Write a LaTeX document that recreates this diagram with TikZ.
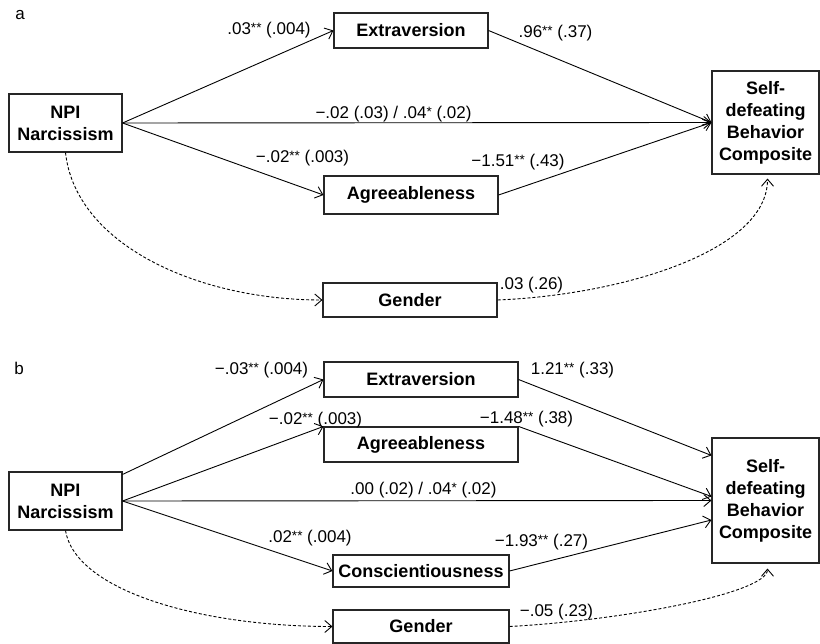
\documentclass[tikz,border=0pt]{standalone}
\usepackage{fontspec}
\setmainfont{Liberation Sans}
\usetikzlibrary{arrows.meta,calc}
\newcommand{\sig}[1]{\raisebox{0.12em}{\fontsize{13.5}{13.5}\selectfont #1}}
\begin{document}
\begin{tikzpicture}[x=1pt,y=-1pt,
  box/.style={draw=black!85, line width=1.1pt, inner sep=0pt, align=center, font=\fontsize{18}{22}\selectfont\bfseries},
  lab/.style={inner sep=0pt, font=\fontsize{17}{20}\selectfont},
  conn/.style={line width=0.9pt, -{Straight Barb[length=7pt,width=12pt]}},
  dconn/.style={conn, dash pattern=on 3pt off 2pt}]
\useasboundingbox (0,0) rectangle (820,644);

% ---------- panel a ----------
\node[lab] (pa) at (20,15) {a};
\node[box, minimum width=154, minimum height=35] (exta) at (411,30.5) {Extraversion};
\node[box, minimum width=113, minimum height=58] (npia) at (65.5,123) {NPI\\Narcissism};
\node[box, minimum width=107, minimum height=103] (sdba) at (765.5,122.5) {Self-\\defeating\\Behavior\\Composite};
\node[box, minimum width=174, minimum height=38] (agra) at (411,195) {Agreeableness};
\node[box, minimum width=174, minimum height=34] (gena) at (410,300) {Gender};

\draw[conn] (npia.east) -- (exta.west);
\draw[conn] (npia.east) -- (sdba.west);
\draw[conn] (npia.east) -- (agra.west);
\draw[conn] (exta.east) -- (sdba.west);
\draw[conn] (agra.east) -- (sdba.west);
\draw[dconn] (npia.south) .. controls +(10,92) and +(-125,0) .. (gena.west);
\draw[dconn] (gena.east) .. controls +(123,-5) and +(0,73) .. ($(sdba.south)+(2,4)$);

\node[lab] (la1) at (269,30) {.03\sig{**} (.004)};
\node[lab] (la2) at (555.5,33) {.96\sig{**} (.37)};
\node[lab] (la3) at (393.5,114) {−.02 (.03) / .04\sig{*} (.02)};
\node[lab] (la4) at (302.5,158) {−.02\sig{**} (.003)};
\node[lab] (la5) at (518,162) {−1.51\sig{**} (.43)};
\node[lab] (la6) at (531.5,285) {.03 (.26)};

% ---------- panel b ----------
\node[lab] (pb) at (19,368) {b};
\node[box, minimum width=194, minimum height=35] (extb) at (421,379.5) {Extraversion};
\node[box, minimum width=194, minimum height=35] (agrb) at (421,444.5) {Agreeableness};
\node[box, minimum width=113, minimum height=58] (npib) at (65.5,501) {NPI\\Narcissism};
\node[box, minimum width=107, minimum height=125] (sdbb) at (765.5,500.5) {Self-\\defeating\\Behavior\\Composite};
\node[box, minimum width=176, minimum height=32] (conb) at (421,571) {Conscientiousness};
\node[box, minimum width=176, minimum height=33] (genb) at (421,626.5) {Gender};

\draw[conn] ($(npib.north east)+(0,3)$) -- (extb.west);
\draw[conn] (npib.east) -- (agrb.north west);
\draw[conn] (npib.east) -- (sdbb.west);
\draw[conn] (npib.east) -- (conb.west);
\draw[conn] (extb.east) -- ($(sdbb.north west)+(0,18)$);
\draw[conn] (agrb.north east) -- ($(sdbb.west)+(0,-4)$);
\draw[conn] (conb.east) -- ($(sdbb.west)+(0,19.5)$);
\draw[dconn] (npib.south) .. controls +(10,60) and +(-133,0) .. (genb.west);
\draw[dconn] (genb.east) .. controls +(111,-6) and +(0,25) .. ($(sdbb.south)+(2,5)$);

\node[lab] (lb1) at (261.5,370) {−.03\sig{**} (.004)};
\node[lab] (lb2) at (572.5,370) {1.21\sig{**} (.33)};
\node[lab] (lb3) at (315.5,420) {−.02\sig{**} (.003)};
\node[lab] (lb4) at (526.5,419) {−1.48\sig{**} (.38)};
\node[lab] (lb5) at (423.5,490) {.00 (.02) / .04\sig{*} (.02)};
\node[lab] (lb6) at (310,538) {.02\sig{**} (.004)};
\node[lab] (lb7) at (541.5,542) {−1.93\sig{**} (.27)};
\node[lab] (lb8) at (556.5,612) {−.05 (.23)};
\end{tikzpicture}
\end{document}
